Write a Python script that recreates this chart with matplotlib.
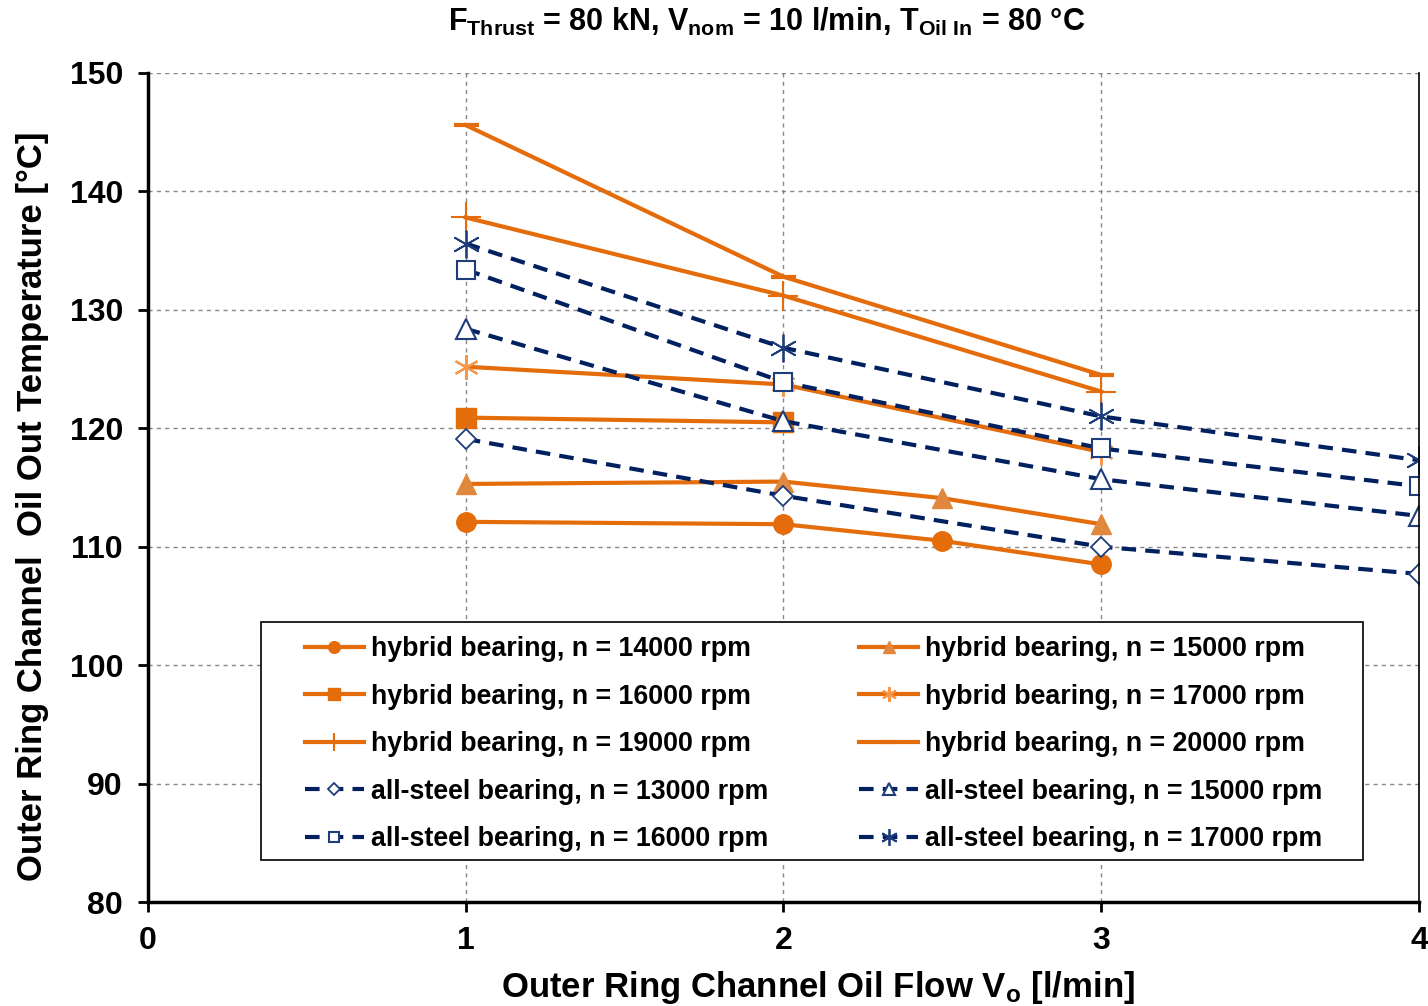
import matplotlib
matplotlib.use("Agg")
import matplotlib.pyplot as plt
from matplotlib.patches import Rectangle

plt.rcParams['font.family'] = ['Liberation Sans', 'DejaVu Sans']
plt.rcParams['mathtext.fontset'] = 'custom'
plt.rcParams['mathtext.rm'] = 'Liberation Sans'
plt.rcParams['mathtext.bf'] = 'Liberation Sans:bold'
plt.rcParams['mathtext.it'] = 'Liberation Sans:bold'

# ---- data ----
hyb14000_x = [1, 2, 2.5, 3]
hyb14000_y = [112.1, 111.9, 110.5, 108.5]
hyb15000_x = [1, 2, 2.5, 3]
hyb15000_y = [115.3, 115.5, 114.1, 111.9]
hyb16000_x = [1, 2]
hyb16000_y = [120.9, 120.5]
hyb17000_x = [1, 2, 3]
hyb17000_y = [125.2, 123.7, 118.0]
hyb19000_x = [1, 2, 3]
hyb19000_y = [137.8, 131.2, 123.1]
hyb20000_x = [1, 2, 3]
hyb20000_y = [145.6, 132.8, 124.5]

steel_x = [1, 2, 3, 4]
steel13000_y = [119.1, 114.3, 110.0, 107.7]
steel15000_y = [128.4, 120.6, 115.7, 112.6]
steel16000_y = [133.4, 123.9, 118.3, 115.1]
steel17000_y = [135.6, 126.8, 121.0, 117.3]

xticks = [0, 1, 2, 3, 4]
yticks = [80, 90, 100, 110, 120, 130, 140, 150]

ORANGE = '#E46C0A'
ORANGE2 = '#E0883E'
ORANGE3 = '#F79646'
NAVY = '#002060'
NAVY_M = '#1F3D7A'

W, H = 1428, 1006
fig = plt.figure(figsize=(W / 100, H / 100), dpi=100)
ax = fig.add_axes([148 / W, 1 - 902 / H, (1419 - 148) / W, (902 - 73) / H])

lw = 3.0
ast = (6, 2, 0)

handles = []
h, = ax.plot(hyb14000_x, hyb14000_y, color=ORANGE, lw=lw, marker='o', ms=14,
             mfc=ORANGE, mec=ORANGE, label='hybrid bearing, n = 14000 rpm')
handles.append(h)
h, = ax.plot(hyb15000_x, hyb15000_y, color=ORANGE, lw=lw, marker='^', ms=15,
             mfc=ORANGE2, mec=ORANGE2, label='hybrid bearing, n = 15000 rpm')
handles.append(h)
h, = ax.plot(hyb16000_x, hyb16000_y, color=ORANGE, lw=lw, marker='s', ms=14,
             mfc=ORANGE, mec=ORANGE, label='hybrid bearing, n = 16000 rpm')
handles.append(h)
h, = ax.plot(hyb17000_x, hyb17000_y, color=ORANGE, lw=lw, marker=ast, ms=18,
             mec=ORANGE3, mew=1.5, label='hybrid bearing, n = 17000 rpm')
handles.append(h)
h, = ax.plot(hyb19000_x, hyb19000_y, color=ORANGE, lw=lw, marker='+', ms=22,
             mec=ORANGE, mew=1.5, label='hybrid bearing, n = 19000 rpm')
handles.append(h)
h, = ax.plot(hyb20000_x, hyb20000_y, color=ORANGE, lw=lw, marker='_', ms=18,
             mec=ORANGE, mew=3, label='hybrid bearing, n = 20000 rpm')
handles.append(h)

dash = (0, (3.5, 2.2))
h, = ax.plot(steel_x, steel13000_y, color=NAVY, lw=lw, ls=dash, marker='D', ms=10,
             mfc='white', mec=NAVY_M, mew=1.3, label='all-steel bearing, n = 13000 rpm')
handles.append(h)
h, = ax.plot(steel_x, steel15000_y, color=NAVY, lw=lw, ls=dash, marker='^', ms=14,
             mfc='white', mec=NAVY_M, mew=1.5, label='all-steel bearing, n = 15000 rpm')
handles.append(h)
h, = ax.plot(steel_x, steel16000_y, color=NAVY, lw=lw, ls=dash, marker='s', ms=13,
             mfc='white', mec=NAVY_M, mew=1.5, label='all-steel bearing, n = 16000 rpm')
handles.append(h)
h, = ax.plot(steel_x, steel17000_y, color=NAVY, lw=lw, ls=dash, marker=ast, ms=20,
             mec=NAVY_M, mew=1.3, label='all-steel bearing, n = 17000 rpm')
handles.append(h)

ax.set_xlim(0, 4)
ax.set_ylim(80, 150)
ax.set_xticks(xticks)
ax.set_yticks(yticks)
ax.grid(True, color='#888888', ls=(0, (3, 3)), lw=1.0)
ax.set_axisbelow(True)

for s in ['left', 'bottom']:
    ax.spines[s].set_linewidth(2.5)
ax.spines['top'].set_visible(False)
ax.spines['right'].set_linewidth(1.2)

ax.tick_params(axis='both', direction='out', length=7, width=2, labelsize=23)
for t in ax.get_xticklabels() + ax.get_yticklabels():
    t.set_fontweight('bold')
ax.tick_params(axis='x', pad=10)
ax.tick_params(axis='y', pad=11)

ax.set_xlabel(r'Outer Ring Channel Oil Flow V$_\mathregular{o}$ [l/min]', fontsize=25,
              fontweight='bold')
ax.xaxis.set_label_coords((818 - 148) / 1271, (902 - 969) / 829)
ax.set_ylabel('Outer Ring Channel  Oil Out Temperature [°C]', fontsize=25,
              fontweight='bold')
ax.yaxis.label.set_va('center')
ax.yaxis.set_label_coords((32 - 148) / 1271, (902 - 506) / 829)

fig.text(767 / W, 1 - 22 / H,
         r'$\mathbf{F_{Thrust}}$ = 80 kN, $\mathbf{V_{nom}}$ = 10 l/min, $\mathbf{T_{Oil\ In}}$ = 80 °C',
         fontsize=22, fontweight='bold', ha='center', va='center')

# legend frame
ax.add_patch(Rectangle(((261 - 148) / 1271, (902 - 860) / 829), (1363 - 261) / 1271,
                       (860 - 622) / 829, transform=ax.transAxes, fill=True,
                       facecolor='white', edgecolor='black', lw=1.2, zorder=5))

order = [0, 2, 4, 6, 8, 1, 3, 5, 7, 9]
leg = ax.legend([handles[i] for i in order], [handles[i].get_label() for i in order],
                ncol=2, loc='lower left',
                bbox_to_anchor=((305 - 148) / 1271, (902 - 852) / 829,
                                (1322 - 305) / 1271, (852 - 630) / 829),
                mode='expand', borderaxespad=0, prop={'weight': 'bold', 'size': 19.3},
                frameon=False, handlelength=2.2, handletextpad=0.25, labelspacing=0.8,
                borderpad=0, markerscale=0.6, columnspacing=1.0)
leg.set_zorder(6)

fig.savefig('out.png', dpi=100)
